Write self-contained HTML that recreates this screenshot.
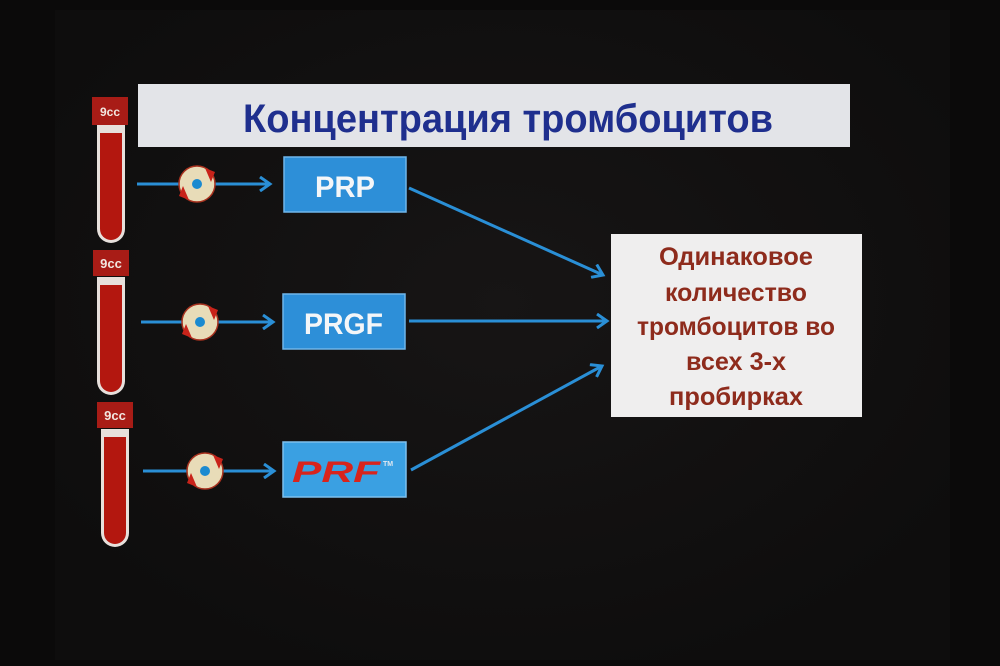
<!DOCTYPE html>
<html><head><meta charset="utf-8"><style>
html,body{margin:0;padding:0;background:#0b0a0a;}
svg{display:block}
text{font-family:"Liberation Sans","DejaVu Sans",sans-serif;font-weight:bold}
</style></head><body>
<svg width="1000" height="666" viewBox="0 0 1000 666" xmlns="http://www.w3.org/2000/svg">
<defs>
<radialGradient id="bg" cx="50%" cy="45%" r="60%">
<stop offset="0" stop-color="#171515"/><stop offset="1" stop-color="#0e0d0d"/>
</radialGradient>
<marker id="ah" markerWidth="14" markerHeight="16" refX="11" refY="8" orient="auto" markerUnits="userSpaceOnUse">
<path d="M1,1 L11,8 L1,15" fill="none" stroke="#2a8fd6" stroke-width="3"/>
</marker>
<g id="cf">
<circle r="18" fill="#e8dcb8" stroke="#a8321f" stroke-width="1.5"/>
<path d="M8,-16 L18,-12 L14,-2 Z" fill="#c8231a"/>
<path d="M-8,16 L-18,12 L-14,2 Z" fill="#c8231a"/>
<circle r="5" fill="#1b8ad0"/>
</g>
<g id="tube">
<rect x="0" y="0" width="36" height="26" fill="#a81c16"/>
<text x="18" y="18" font-size="13" fill="#f2e6e0" text-anchor="middle">9cc</text>
<path d="M4,27 L32,27 L32,131 A14,14 0 0 1 4,131 Z" fill="#e7e0dc"/>
<path d="M7,35 L29,35 L29,131 A11,11 0 0 1 7,131 Z" fill="#b3170f"/>
</g>
</defs>
<rect width="1000" height="666" fill="#0b0a0a"/>
<rect x="55" y="10" width="895" height="650" fill="url(#bg)"/>
<rect x="138" y="84" width="712" height="63" fill="#e3e4e8"/>
<text x="243" y="132" font-size="40" fill="#1f2f8e" textLength="530" lengthAdjust="spacingAndGlyphs">Концентрация тромбоцитов</text>

<use href="#tube" x="93" y="250"/>
<use href="#tube" x="97" y="402"/>
<rect x="92" y="97" width="36" height="28" fill="#a81c16"/>
<path d="M97,125 L125,125 L125,229 A14,14 0 0 1 97,229 Z" fill="#e7e0dc"/>
<path d="M100,133 L122,133 L122,229 A11,11 0 0 1 100,229 Z" fill="#b3170f"/>
<text x="110" y="116" font-size="12" fill="#f2e6e0" text-anchor="middle">9cc</text>

<g stroke="#2a8fd6" stroke-width="3" fill="none">
<line x1="137" y1="184" x2="180" y2="184"/>
<line x1="214" y1="184" x2="270" y2="184" marker-end="url(#ah)"/>
<line x1="141" y1="322" x2="183" y2="322"/>
<line x1="217" y1="322" x2="273" y2="322" marker-end="url(#ah)"/>
<line x1="143" y1="471" x2="188" y2="471"/>
<line x1="222" y1="471" x2="274" y2="471" marker-end="url(#ah)"/>
<line x1="409" y1="188" x2="603" y2="275" marker-end="url(#ah)"/>
<line x1="409" y1="321" x2="607" y2="321" marker-end="url(#ah)"/>
<line x1="411" y1="470" x2="602" y2="366" marker-end="url(#ah)"/>
</g>
<use href="#cf" x="197" y="184"/>
<use href="#cf" x="200" y="322"/>
<use href="#cf" x="205" y="471"/>

<rect x="284" y="157" width="122" height="55" fill="#2d8fd8" stroke="#6fb6ea" stroke-width="1.5"/>
<text x="315" y="197" font-size="30" fill="#f4f6f8" textLength="60" lengthAdjust="spacingAndGlyphs">PRP</text>
<rect x="283" y="294" width="122" height="55" fill="#2d8fd8" stroke="#6fb6ea" stroke-width="1.5"/>
<text x="304" y="334" font-size="30" fill="#f4f6f8" textLength="79" lengthAdjust="spacingAndGlyphs">PRGF</text>
<rect x="283" y="442" width="123" height="55" fill="#3aa0e2" stroke="#7cc0ee" stroke-width="1.5"/>
<text x="292" y="482" font-size="30" fill="#d8241c" font-style="italic" textLength="88" lengthAdjust="spacingAndGlyphs">PRF</text>
<text x="383" y="466" font-size="7" fill="#e0e8f0">TM</text>

<rect x="611" y="234" width="251" height="183" fill="#efeeee"/>
<g font-size="25" fill="#8e2b1c" text-anchor="middle">
<text x="736" y="265" textLength="154" lengthAdjust="spacingAndGlyphs">Одинаковое</text>
<text x="736" y="301" textLength="142" lengthAdjust="spacingAndGlyphs">количество</text>
<text x="736" y="335" textLength="198" lengthAdjust="spacingAndGlyphs">тромбоцитов во</text>
<text x="736" y="370" textLength="100" lengthAdjust="spacingAndGlyphs">всех 3-х</text>
<text x="736" y="405" textLength="134" lengthAdjust="spacingAndGlyphs">пробирках</text>
</g>
</svg>
</body></html>
